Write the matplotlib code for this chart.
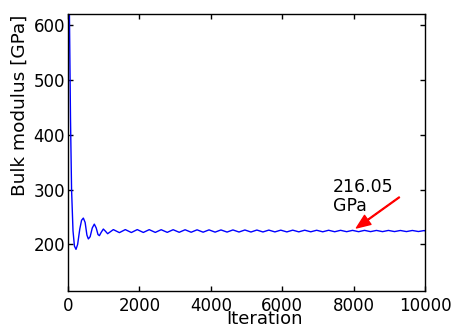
import matplotlib
matplotlib.use("Agg")
from matplotlib import pyplot as plt

# convergence history of the bulk modulus (extrema and a few points on the initial drop)
iterations = [0, 40, 70, 100, 140, 180, 224, 270, 330, 380, 430, 480, 530, 570, 620,
              680, 737, 790, 840, 880, 930, 990, 1050, 1110,
              1270, 1440, 1605, 1775, 1940, 2110, 2275, 2445, 2610, 2780, 2945, 3115,
              3280, 3450, 3615, 3785, 3950, 4120, 4285, 4455, 4620, 4790, 4955, 5125,
              5290, 5460, 5625, 5795, 5960, 6130, 6295, 6465, 6630, 6800, 6965, 7135,
              7300, 7470, 7635, 7805, 7970, 8140, 8305, 8475, 8640, 8810, 8975, 9145,
              9310, 9480, 9645, 9815, 9980, 10000]
bulk = [760, 620, 430, 300, 225, 197, 191, 200, 228, 244, 248, 240, 217, 210, 214,
        230, 237, 230, 218, 216, 222, 228, 224, 219.5,
        227.0, 221.5, 227.0, 221.7, 227.0, 221.8, 226.9, 221.9, 226.8, 222.0, 226.8, 222.1,
        226.7, 222.2, 226.6, 222.3, 226.5, 222.4, 226.4, 222.5, 226.4, 222.6, 226.3, 222.6,
        226.2, 222.7, 226.1, 222.8, 226.0, 222.8, 226.0, 222.9, 225.9, 223.0, 225.8, 223.0,
        225.8, 223.1, 225.7, 223.2, 225.6, 223.2, 225.6, 223.3, 225.5, 223.3, 225.5, 223.4,
        225.4, 223.4, 225.4, 223.5, 225.3, 224.6]

label_text = "216.05\nGPa"
arrow_tip = (8080, 230)
arrow_tail = (9280, 286)
text_pos = (7420, 287)

fig = plt.figure(figsize=(4.67, 3.27), dpi=100)
ax = fig.add_axes([0.1456, 0.110, 0.7645, 0.847])

ax.plot(iterations, bulk, color="blue", lw=1.0)
ax.set_xlim(0, 10000)
ax.set_ylim(115, 620)
ax.set_xticks([0, 2000, 4000, 6000, 8000, 10000])
ax.set_yticks([200, 300, 400, 500, 600])

ax.tick_params(direction="in", top=True, right=True, length=3.5, width=1,
               labelsize=12)
ax.tick_params(axis="x", pad=4)
ax.tick_params(axis="y", pad=2)
for s in ax.spines.values():
    s.set_linewidth(1.0)

ax.set_xlabel("Iteration", fontsize=13)
ax.set_ylabel("Bulk modulus [GPa]", fontsize=13.3)
ax.xaxis.set_label_coords(0.55, -0.068)
ax.yaxis.set_label_coords(-0.11, 0.67)

ax.text(text_pos[0], text_pos[1], label_text, fontsize=12.5, ha="left", va="center",
        linespacing=1.1)
ax.annotate("", xy=arrow_tip, xytext=arrow_tail,
            arrowprops=dict(facecolor="red", edgecolor="red", width=0.6,
                            headwidth=8, headlength=10, shrink=0.0))

fig.savefig("out.png", dpi=100)
